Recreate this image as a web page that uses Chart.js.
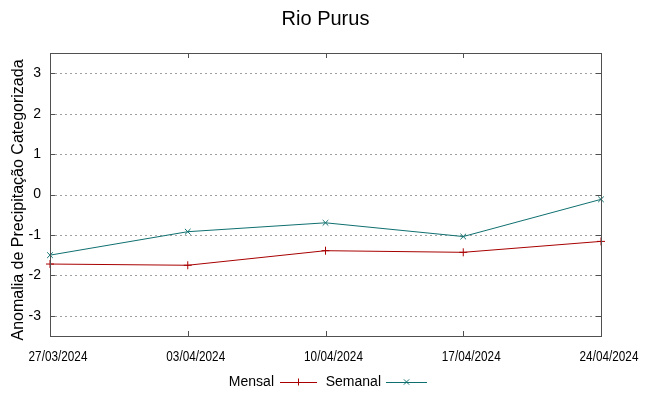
<!DOCTYPE html>
<html><head><meta charset="utf-8">
<script src="https://cdn.jsdelivr.net/npm/chart.js@4/dist/chart.umd.min.js"></script>
<style>html,body{margin:0;padding:0;background:#fff}#wrap{width:649px;height:396px}</style>
</head><body><div id="wrap"><canvas id="c" width="649" height="396"></canvas></div>
<script>
const chartTitle = 'Rio Purus';
const yTitle = 'Anomalia de Precipitação Categorizada';
const dates = ['27/03/2024','03/04/2024','10/04/2024','17/04/2024','24/04/2024'];
const mensal = [-1.72, -1.75, -1.39, -1.43, -1.16];
const semanal = [-1.50, -0.92, -0.70, -1.04, -0.12];
const yTicks = [-3,-2,-1,0,1,2,3];
const redC = '#a80000', tealC = '#0f6f6f';
const FONT = '"Liberation Sans", Arial, sans-serif';

const deco = {
  id:'deco',
  beforeDatasetsDraw(chart){
    const {ctx, chartArea:a, scales:{x,y}} = chart;
    ctx.save();
    ctx.strokeStyle='#a0a0a0'; ctx.lineWidth=1; ctx.setLineDash([2,3]);
    yTicks.forEach(v=>{const py=Math.round(y.getPixelForValue(v))+0.5;ctx.beginPath();ctx.moveTo(a.left,py);ctx.lineTo(a.right,py);ctx.stroke();});
    ctx.setLineDash([]);
    ctx.restore();
  },
  afterDatasetsDraw(chart){
    const {ctx, chartArea:a, scales:{x,y}} = chart;
    ctx.save();
    ctx.strokeStyle='#505050'; ctx.lineWidth=1;
    ctx.strokeRect(Math.round(a.left)+0.5, Math.round(a.top)+0.5, Math.round(a.right-a.left), Math.round(a.bottom-a.top));
    const t=5;
    ctx.beginPath();
    yTicks.forEach(v=>{const py=Math.round(y.getPixelForValue(v))+0.5;ctx.moveTo(a.left,py);ctx.lineTo(a.left+t,py);ctx.moveTo(a.right,py);ctx.lineTo(a.right-t,py);});
    dates.forEach((d,i)=>{const px=Math.round(x.getPixelForValue(i))+0.5;ctx.moveTo(px,a.bottom);ctx.lineTo(px,a.bottom-t);ctx.moveTo(px,a.top);ctx.lineTo(px,a.top+t);});
    ctx.stroke();
    // x tick labels (condensed)
    ctx.fillStyle='#000'; ctx.textAlign='center'; ctx.textBaseline='middle';
    ctx.font='14px '+FONT;
    dates.forEach((d,i)=>{ctx.save();ctx.translate(x.getPixelForValue(i)+8,357);ctx.scale(0.84,1);ctx.fillText(d,0,0);ctx.restore();});
    // title
    ctx.font='20px '+FONT;
    ctx.fillText(chartTitle, (a.left+a.right)/2, 19);
    // y title
    ctx.save(); ctx.translate(19,200); ctx.rotate(-Math.PI/2);
    ctx.font='16px '+FONT; ctx.fillText(yTitle,0,0); ctx.restore();
    // legend
    ctx.font='14px '+FONT; ctx.textBaseline='middle'; ctx.textAlign='right';
    const ly=382;
    const items=[{ds:chart.data.datasets[0],tx:274,l0:280,l1:317},{ds:chart.data.datasets[1],tx:381,l0:386,l1:427}];
    items.forEach(it=>{
      ctx.fillStyle='#000'; ctx.fillText(it.ds.label,it.tx,ly);
      ctx.strokeStyle=it.ds.borderColor; ctx.lineWidth=1;
      ctx.beginPath(); ctx.moveTo(it.l0,ly+0.5); ctx.lineTo(it.l1,ly+0.5); ctx.stroke();
      const cx=(it.l0+it.l1)/2, r=3.5;
      ctx.beginPath();
      if(it.ds.pointStyle==='cross'){ctx.moveTo(cx,ly-r);ctx.lineTo(cx,ly+r);}
      else{ctx.moveTo(cx-r*0.75,ly-r*0.75);ctx.lineTo(cx+r*0.75,ly+r*0.75);ctx.moveTo(cx-r*0.75,ly+r*0.75);ctx.lineTo(cx+r*0.75,ly-r*0.75);}
      ctx.stroke();
    });
    ctx.restore();
  }
};

new Chart(document.getElementById('c'),{
  type:'line',
  data:{labels:dates,datasets:[
    {label:'Mensal',data:mensal,borderColor:redC,backgroundColor:redC,borderWidth:1,pointStyle:'cross',pointRadius:4,pointBorderWidth:1,tension:0,fill:false},
    {label:'Semanal',data:semanal,borderColor:tealC,backgroundColor:tealC,borderWidth:1,pointStyle:'crossRot',pointRadius:4,pointBorderWidth:1,tension:0,fill:false}
  ]},
  options:{
    responsive:false,animation:false,devicePixelRatio:1,
    layout:{padding:{top:53,right:48,left:0,bottom:0}},
    plugins:{legend:{display:false},title:{display:false},tooltip:{enabled:false}},
    scales:{
      x:{type:'category',offset:false,border:{display:false},grid:{display:false,drawTicks:false},
        ticks:{display:false,autoSkip:false},
        afterFit(s){s.height=60;}},
      y:{type:'linear',min:-3.5,max:3.5,border:{display:false},grid:{display:false,drawTicks:false},
        afterBuildTicks(s){s.ticks=yTicks.map(v=>({value:v}));},
        ticks:{color:'#000',font:{family:FONT,size:14},padding:9},
        afterFit(s){s.width=50;}}
    }
  },
  plugins:[deco]
});
</script></body></html>
